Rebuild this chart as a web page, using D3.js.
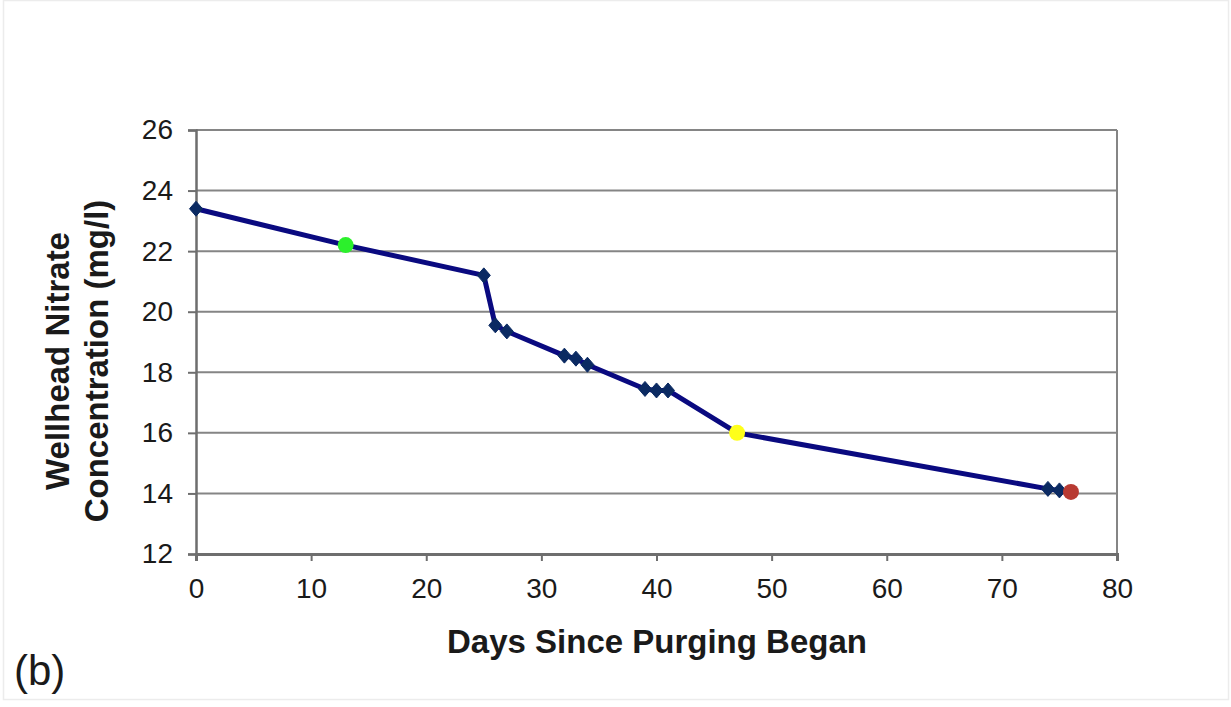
<!DOCTYPE html>
<html>
<head>
<meta charset="utf-8">
<script src="https://cdn.jsdelivr.net/npm/d3@7"></script>
<style>
  html, body { margin: 0; padding: 0; background: #fff; }
  svg { display: block; }
  text { font-family: "Liberation Sans", Arial, sans-serif; fill: #1a1a1a; }
</style>
</head>
<body>
<svg id="chart" width="1231" height="707"></svg>
<script>
// Sampling days and measured wellhead nitrate (mg/l)
const days    = [0, 13, 25, 26, 27, 32, 33, 34, 39, 40, 41, 47, 74, 75, 76];
const nitrate = [23.4, 22.2, 21.2, 19.55, 19.35, 18.55, 18.45, 18.25, 17.45, 17.4, 17.4, 16.0, 14.15, 14.1, 14.05];

// Samples picked out with their own colour
const highlightDays   = [13, 47, 76];
const highlightColors = ["#2cf02c", "#ffff1a", "#b83a32"];

const xTicks = [0, 10, 20, 30, 40, 50, 60, 70, 80];
const yTicks = [12, 14, 16, 18, 20, 22, 24, 26];

const xTitle = "Days Since Purging Began";
const yTitleLines = ["Wellhead Nitrate", "Concentration (mg/l)"];
const panelLabel = "(b)";

const svg = d3.select("#chart");
const W = 1231, H = 707;

// faint outer frame
svg.append("rect")
  .attr("x", 3.5).attr("y", 0.5).attr("width", W - 6).attr("height", H - 8)
  .attr("fill", "#fff").attr("stroke", "#ececec").attr("stroke-width", 1.5);

const plot = { left: 196, right: 1117, top: 130, bottom: 554 };

const x = d3.scaleLinear().domain([0, 80]).range([plot.left, plot.right]);
const y = d3.scaleLinear().domain([12, 26]).range([plot.bottom, plot.top]);

// horizontal gridlines
svg.append("g")
  .selectAll("line")
  .data(yTicks.filter(v => v > 12))
  .join("line")
  .attr("x1", plot.left).attr("x2", plot.right)
  .attr("y1", d => y(d)).attr("y2", d => y(d))
  .attr("stroke", "#858585").attr("stroke-width", 2);

// right border of the plot area
svg.append("line")
  .attr("x1", plot.right).attr("x2", plot.right)
  .attr("y1", plot.top).attr("y2", plot.bottom)
  .attr("stroke", "#858585").attr("stroke-width", 2);

const tickFont = "'Liberation Sans', Arial, sans-serif";

// y axis
const yAxis = svg.append("g")
  .attr("transform", `translate(${plot.left},0)`)
  .call(d3.axisLeft(y).tickValues(yTicks).tickSize(8).tickPadding(15).tickFormat(d3.format("d")));
yAxis.select(".domain").attr("stroke", "#6e6e6e").attr("stroke-width", 2.5);
yAxis.selectAll(".tick line").attr("stroke", "#6e6e6e").attr("stroke-width", 2);
yAxis.selectAll(".tick text")
  .attr("font-size", 28).attr("fill", "#1a1a1a")
  .style("font-family", tickFont);

// x axis
const xAxis = svg.append("g")
  .attr("transform", `translate(0,${plot.bottom})`)
  .call(d3.axisBottom(x).tickValues(xTicks).tickSize(7).tickPadding(17).tickFormat(d3.format("d")));
xAxis.select(".domain").attr("stroke", "#6e6e6e").attr("stroke-width", 3);
xAxis.selectAll(".tick line").attr("stroke", "#6e6e6e").attr("stroke-width", 2);
xAxis.selectAll(".tick text")
  .attr("font-size", 28).attr("fill", "#1a1a1a")
  .style("font-family", tickFont);

const pts = days.map((d, i) => ({ day: d, value: nitrate[i] }));

// concentration line
svg.append("path")
  .datum(pts)
  .attr("fill", "none")
  .attr("stroke", "#0a0a80")
  .attr("stroke-width", 5)
  .attr("stroke-linejoin", "round")
  .attr("d", d3.line().x(d => x(d.day)).y(d => y(d.value)));

// diamond markers
const diamond = "M0,-7.5 L6.5,0 L0,7.5 L-6.5,0 Z";
svg.append("g")
  .selectAll("path")
  .data(pts.filter(p => !highlightDays.includes(p.day)))
  .join("path")
  .attr("d", diamond)
  .attr("transform", d => `translate(${x(d.day)},${y(d.value)})`)
  .attr("fill", "#0b2a62")
  .attr("stroke", "#0b2a62").attr("stroke-width", 1);

// highlighted samples
svg.append("g")
  .selectAll("circle")
  .data(pts.filter(p => highlightDays.includes(p.day)))
  .join("circle")
  .attr("cx", d => x(d.day)).attr("cy", d => y(d.value))
  .attr("r", 8)
  .attr("fill", d => highlightColors[highlightDays.indexOf(d.day)]);

// axis titles
svg.append("text")
  .attr("x", 657).attr("y", 653)
  .attr("text-anchor", "middle")
  .attr("font-size", 33).attr("font-weight", "bold")
  .text(xTitle);

const yt = svg.append("text")
  .attr("transform", "translate(69,361) rotate(-90)")
  .attr("text-anchor", "middle")
  .attr("font-size", 33).attr("font-weight", "bold");
yt.append("tspan").attr("x", 0).attr("dy", 0).text(yTitleLines[0]);
yt.append("tspan").attr("x", 0).attr("dy", 39).text(yTitleLines[1]);

// panel label
svg.append("text")
  .attr("x", 14).attr("y", 685)
  .attr("font-size", 42)
  .text(panelLabel);
</script>
</body>
</html>
